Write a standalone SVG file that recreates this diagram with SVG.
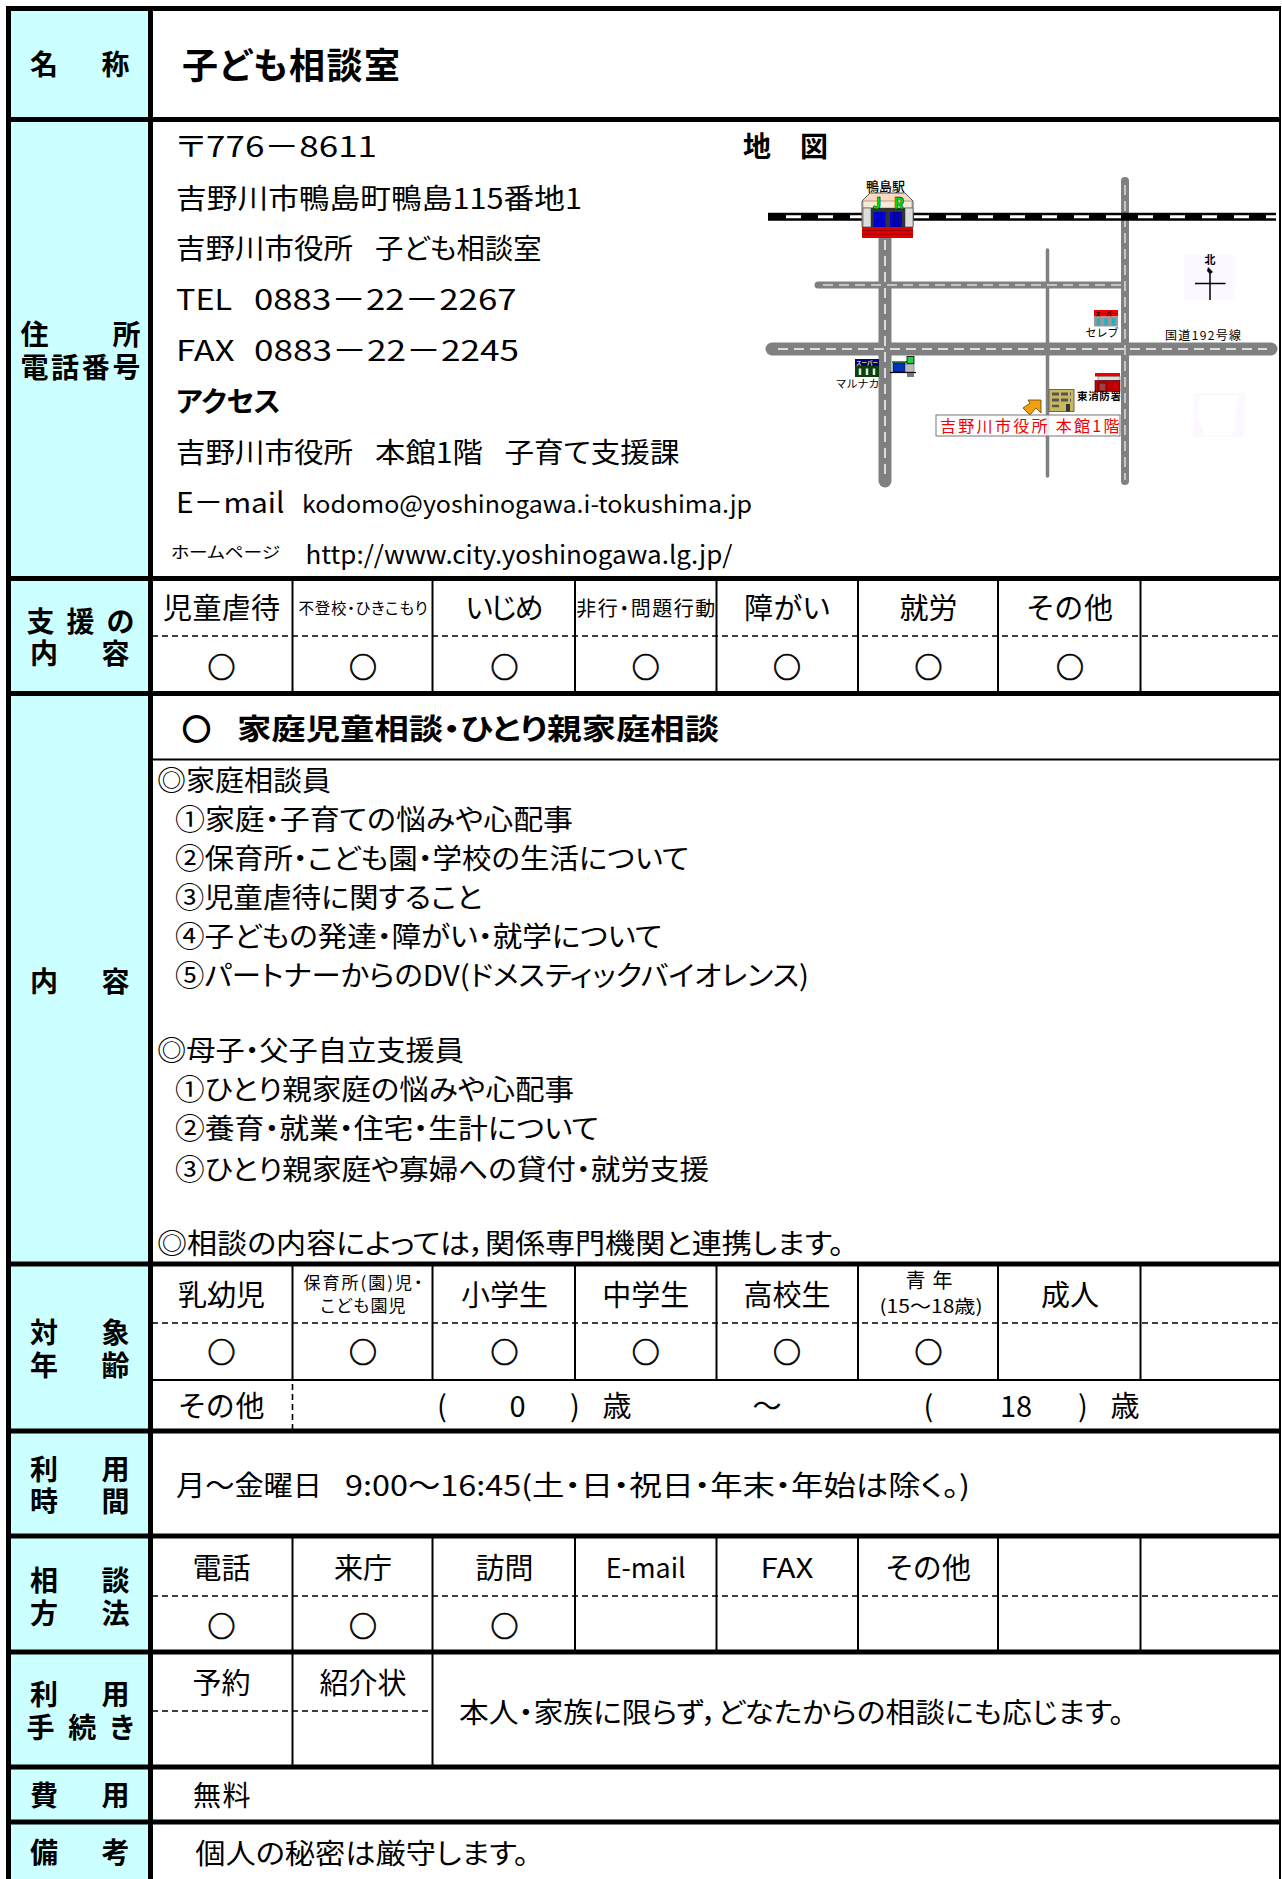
<svg xmlns="http://www.w3.org/2000/svg" width="1282" height="1879" viewBox="0 0 1282 1879">
<defs><style>
text{font-family:"Noto Sans CJK JP","Liberation Sans",sans-serif;fill:#000;font-feature-settings:"palt"}
.t{font-size:28px}
.s{font-size:29px;text-anchor:middle}
.c{font-size:28px;text-anchor:middle;font-weight:700;font-feature-settings:normal;stroke:#000;stroke-width:.6}
.b{font-size:28px;font-weight:700}
.k{stroke:#000;stroke-width:5;fill:none}
.m{stroke:#000;stroke-width:2;fill:none}
.d{stroke:#000;stroke-width:1.6;stroke-dasharray:6 4;fill:none}
.r{stroke:#808080;fill:none;stroke-linecap:round}
.l{stroke:#dcdcdc;fill:none;stroke-dasharray:10 6}
.mt{font-size:11px;text-anchor:middle;font-feature-settings:normal}
.i{font-size:5.500px;text-anchor:middle;font-weight:700;font-feature-settings:normal}
</style></defs>
<rect width="1282" height="1879" fill="#fff"/>
<rect x="8" y="8" width="142" height="1871" fill="#ccffff"/>

<g id="grid">
<path class="k" d="M8.500 1879V8.500H1281M150.500 8V1879"/>
<g transform="translate(0,1)">
<path class="k" d="M8 118.500H1281M8 577.500H1281M8 692.500H1281M8 1263H1281M8 1430H1281M8 1535H1281M8 1651H1281M8 1766H1281M8 1821H1281"/>
<path class="m" d="M150 758.500H1280"/>
<path class="m" d="M292.500 578V692M432.500 578V692M575 578V692M716.500 578V692M858 578V692M998 578V692M1140.500 578V692"/>
<path class="m" d="M292.500 1263V1379M432.500 1263V1379M575 1263V1379M716.500 1263V1379M858 1263V1379M998 1263V1379M1140.500 1263V1379M150 1379H1280"/>
<path class="m" d="M292.500 1535V1651M432.500 1535V1651M575 1535V1651M716.500 1535V1651M858 1535V1651M998 1535V1651M1140.500 1535V1651"/>
<path class="m" d="M292.500 1651V1766M432.500 1651V1766"/>
<path class="d" d="M152 635H1280M152 1322H1280M152 1595H1280M152 1710H433M292.500 1383V1428"/>
</g>
<path class="m" d="M1280 8V1879"/>
</g>

<g id="row-name">
<text class="b" x="30" y="74.500" textLength="99.500">名 称</text>
<text x="182" y="78.500" font-size="36" font-weight="700" textLength="218">子ども相談室</text>
</g>

<g id="row-address" transform="translate(0,1)">
<text class="b" x="20.400" y="344" textLength="120">住 所</text>
<text class="b" x="20.400" y="376.500" textLength="120">電話番号</text>
<text class="t" x="176" y="156" textLength="201" lengthAdjust="spacingAndGlyphs">〒776－8611</text>
<text class="t" x="176" y="207.500" textLength="406" lengthAdjust="spacingAndGlyphs">吉野川市鴨島町鴨島115番地1</text>
<text class="t" x="176" y="258" textLength="177" lengthAdjust="spacingAndGlyphs">吉野川市役所</text>
<text class="t" x="375" y="258" textLength="166.500" lengthAdjust="spacingAndGlyphs">子ども相談室</text>
<text class="t" x="176" y="309" textLength="56" lengthAdjust="spacingAndGlyphs">TEL</text>
<text class="t" x="254" y="309" textLength="262.500" lengthAdjust="spacingAndGlyphs">0883－22－2267</text>
<text class="t" x="176" y="359.500" textLength="58.700" lengthAdjust="spacingAndGlyphs">FAX</text>
<text class="t" x="254" y="359.500" textLength="265" lengthAdjust="spacingAndGlyphs">0883－22－2245</text>
<text class="t" x="176" y="411" font-weight="700" textLength="104.500" lengthAdjust="spacingAndGlyphs">アクセス</text>
<text class="t" x="176" y="461.500" textLength="177" lengthAdjust="spacingAndGlyphs">吉野川市役所</text>
<text class="t" x="375" y="461.500" textLength="108" lengthAdjust="spacingAndGlyphs">本館1階</text>
<text class="t" x="504.500" y="461.500" textLength="175" lengthAdjust="spacingAndGlyphs">子育て支援課</text>
<text class="t" x="176" y="512" textLength="108.500" lengthAdjust="spacingAndGlyphs">E－mail</text>
<text x="302" y="512" font-size="24" textLength="450" lengthAdjust="spacingAndGlyphs">kodomo@yoshinogawa.i-tokushima.jp</text>
<text x="171" y="557" font-size="16" textLength="109" lengthAdjust="spacingAndGlyphs">ホームページ</text>
<text x="305.500" y="562.500" font-size="25" textLength="427" lengthAdjust="spacingAndGlyphs">http://www.city.yoshinogawa.lg.jp/</text>
</g>

<g id="map">
<text class="b" x="743" y="157" textLength="85">地 図</text>
<rect x="1184" y="255" width="51" height="45" fill="#fdf8ff"/>
<rect x="1193.500" y="393" width="51" height="44" fill="#fdf8ff"/>
<path d="M1200 395h38l-5 40h-28l-8-20z" fill="#fff"/>
<g id="roads">
<path class="r" stroke-width="13" d="M885 235V481"/>
<path class="r" stroke-width="8" d="M1125 181V481"/>
<path class="r" stroke-width="3.500" d="M1047.500 250V476"/>
<path class="r" stroke-width="7" d="M818 285H1125"/>
<path class="r" stroke-width="13" d="M772 349H1271"/>
<path class="l" stroke-width="2" d="M885 240V478"/>
<path class="l" stroke-width="1.500" d="M1125 185V480M823 285H1121"/>
<path class="l" stroke-width="2" d="M778 349H1267"/>
<path stroke="#000" stroke-width="8" d="M768 216.700H1276"/>
<path stroke="#fff" stroke-width="3" stroke-dasharray="15 17" d="M786 216.700H1276"/>
</g>
<g id="station">
<text x="885.500" y="191" font-size="13" text-anchor="middle" font-weight="500" style="font-feature-settings:normal">鴨島駅</text>
<path d="M862 227V201L870 193H905L913 201V227Z" fill="#fcd8c0" stroke="#555"/>
<rect x="863" y="201" width="49" height="7" fill="#f8e8d8" stroke="#777" stroke-width=".6"/>
<rect x="863" y="208" width="8" height="19" fill="#ddd" stroke="#666" stroke-width=".8"/>
<rect x="905" y="208" width="8" height="19" fill="#ddd" stroke="#666" stroke-width=".8"/>
<rect x="871" y="208" width="34" height="19" fill="#333"/>
<rect x="873.500" y="212" width="12" height="15" fill="#0000d0"/>
<rect x="890" y="212" width="12" height="15" fill="#0000d0"/>
<path stroke="#000" stroke-width=".8" d="M877.500 212v15M881.500 212v15M894 212v15M898 212v15"/>
<rect x="862" y="227" width="51" height="11" fill="#e00000"/>
<path stroke="#800000" stroke-width=".8" d="M862 230.500H913M862 234H913"/>
<text x="877" y="209" font-size="15" font-weight="900" text-anchor="middle" style="fill:#00dd00;stroke:#000;stroke-width:.4">J</text>
<text x="899" y="209" font-size="15" font-weight="900" text-anchor="middle" style="fill:#00dd00;stroke:#000;stroke-width:.4">R</text>
</g>
<g id="north">
<text class="mt" x="1210" y="264" font-weight="700">北</text>
<path d="M1208 267L1213 272 1210 274 1207 271Z" fill="#000"/>
<path stroke="#000" stroke-width="1.500" fill="none" d="M1195 283.500H1225.500M1210 272V300"/>
</g>
<g id="store-celeb">
<rect x="1094" y="310" width="24" height="6.500" fill="#f00000"/>
<text class="i" x="1106" y="315.500">スーパー</text>
<rect x="1094" y="316.500" width="24" height="10" fill="#999"/>
<path stroke="#20b0c0" stroke-width="3.500" d="M1098.500 318.500v7M1106 318.500v7M1113.500 318.500v7"/>
<text class="mt" x="1102" y="337">セレブ</text>
</g>
<text id="route" x="1165" y="340" font-size="12" textLength="76" style="font-feature-settings:normal">国道192号線</text>
<g id="store-maruka">
<rect x="855" y="359" width="24" height="7" fill="#000080"/>
<text class="i" x="867" y="364.500" style="fill:#e8e040">スーパー</text>
<rect x="855" y="366" width="24" height="11" fill="#0a400a"/>
<path stroke="#dfe8df" stroke-width="2.500" d="M860 368.500v6.500M867 368.500v6.500M874 368.500v6.500"/>
<text class="mt" x="857.500" y="388">マルナカ</text>
</g>
<g id="gas">
<rect x="892" y="361" width="15" height="2" fill="#20a050"/>
<rect x="893" y="363" width="12" height="9" fill="#0030c0" stroke="#000" stroke-width=".6"/>
<path stroke="#000" stroke-width="1.200" d="M890 372.500H916"/>
<rect x="907" y="356.500" width="7" height="7" fill="#20d040" stroke="#000" stroke-width=".8"/>
<rect x="905" y="364" width="9" height="8" fill="#bbb" stroke="#444" stroke-width=".5"/>
<rect x="907" y="373" width="7" height="4" fill="#777"/>
</g>
<g id="fire">
<rect x="1095" y="373" width="25" height="3.500" fill="#f00000"/>
<rect x="1098" y="376.500" width="22" height="4" fill="#ddd" stroke="#555" stroke-width=".5"/>
<rect x="1095" y="380.500" width="25" height="11" fill="#c00000" stroke="#300" stroke-width=".6"/>
<rect x="1099" y="383" width="7" height="8" fill="#a04040" stroke="#200" stroke-width=".6"/>
<text x="1077" y="400" font-size="10.500" font-weight="700" textLength="44" style="font-feature-settings:normal">東消防署</text>
</g>
<g id="city-hall">
<rect x="1049" y="389.500" width="25" height="22" fill="#c8b860" stroke="#666"/>
<path stroke="#555" stroke-width="3" stroke-dasharray="7 2" d="M1052 394h19M1052 400h19"/>
<path stroke="#555" stroke-width="2.500" d="M1052 406h7"/>
<rect x="1066" y="404" width="4" height="7.500" fill="#333"/>
<path d="M1041 400V413L1036 408 1030 415 1023 408 1030 403 1028 400Z" fill="#f0a010" stroke="#604000" stroke-width=".8"/>
</g>
<rect x="936" y="415" width="184" height="21" fill="#fff" fill-opacity=".85" stroke="#777"/>
<text x="940" y="431.500" font-size="16" textLength="179.500" style="fill:#f00000;font-feature-settings:normal">吉野川市役所 本館1階</text>
</g>

<g id="row-support" transform="translate(0,1)">
<text class="b" x="26.400" y="630.500" textLength="107.800">支 援 の</text>
<text class="b" x="30" y="662.500" textLength="99.500">内 容</text>
<text class="s" x="221.600" y="617.500" textLength="117">児童虐待</text>
<text x="363" y="613" font-size="15.500" text-anchor="middle" textLength="129">不登校・ひきこもり</text>
<text class="s" x="504.400" y="617.500" textLength="78">いじめ</text>
<text x="645.700" y="614.500" font-size="20" text-anchor="middle" textLength="139">非行・問題行動</text>
<text class="s" x="787" y="617.500" textLength="86">障がい</text>
<text class="s" x="928.500" y="617.500" textLength="58">就労</text>
<text class="s" x="1070" y="617.500" textLength="86">その他</text>
<text class="c" x="221.600" y="677">○</text><text class="c" x="363" y="677">○</text><text class="c" x="504.400" y="677">○</text><text class="c" x="645.700" y="677">○</text><text class="c" x="787" y="677">○</text><text class="c" x="928.500" y="677">○</text><text class="c" x="1070" y="677">○</text>
</g>

<g id="row-content" transform="translate(0,1.500)">
<text class="b" x="30" y="990" textLength="99.500">内 容</text>
<text class="c" x="196.500" y="738" style="stroke-width:2">○</text>
<text x="237" y="738" font-size="29" font-weight="700" textLength="482" lengthAdjust="spacingAndGlyphs">家庭児童相談・ひとり親家庭相談</text>
<text class="t" x="157" y="789.500" textLength="174" lengthAdjust="spacingAndGlyphs">◎家庭相談員</text>
<text class="t" x="175" y="828" textLength="398" lengthAdjust="spacingAndGlyphs">①家庭・子育ての悩みや心配事</text>
<text class="t" x="175" y="867.500" textLength="514" lengthAdjust="spacingAndGlyphs">②保育所・こども園・学校の生活について</text>
<text class="t" x="175" y="906" textLength="307" lengthAdjust="spacingAndGlyphs">③児童虐待に関すること</text>
<text class="t" x="175" y="945" textLength="487" lengthAdjust="spacingAndGlyphs">④子どもの発達・障がい・就学について</text>
<text class="t" x="175" y="984" textLength="634" lengthAdjust="spacingAndGlyphs">⑤パートナーからのDV(ドメスティックバイオレンス)</text>
<text class="t" x="157" y="1059.500" textLength="307" lengthAdjust="spacingAndGlyphs">◎母子・父子自立支援員</text>
<text class="t" x="175" y="1098.500" textLength="399" lengthAdjust="spacingAndGlyphs">①ひとり親家庭の悩みや心配事</text>
<text class="t" x="175" y="1137.500" textLength="424" lengthAdjust="spacingAndGlyphs">②養育・就業・住宅・生計について</text>
<text class="t" x="175" y="1178" textLength="534" lengthAdjust="spacingAndGlyphs">③ひとり親家庭や寡婦への貸付・就労支援</text>
<text class="t" x="157" y="1252" textLength="687" lengthAdjust="spacingAndGlyphs">◎相談の内容によっては，関係専門機関と連携します。</text>
</g>

<g id="row-age" transform="translate(0,1)">
<text class="b" x="30" y="1342" textLength="99.500">対 象</text>
<text class="b" x="30" y="1374.500" textLength="99.500">年 齢</text>
<text class="s" x="221.600" y="1304.500" textLength="87">乳幼児</text>
<text x="363" y="1288" font-size="17" text-anchor="middle" textLength="119">保育所(園)児・</text>
<text x="363" y="1310.600" font-size="17" text-anchor="middle" textLength="85">こども園児</text>
<text class="s" x="504.400" y="1304.500" textLength="87">小学生</text>
<text class="s" x="645.700" y="1304.500" textLength="87">中学生</text>
<text class="s" x="787" y="1304.500" textLength="87">高校生</text>
<text x="929" y="1287" font-size="20" text-anchor="middle" textLength="47">青年</text>
<text x="931" y="1312" font-size="18" text-anchor="middle" textLength="103" lengthAdjust="spacingAndGlyphs">(15～18歳)</text>
<text class="s" x="1070" y="1304.500" textLength="58">成人</text>
<text class="c" x="221.600" y="1362">○</text><text class="c" x="363" y="1362">○</text><text class="c" x="504.400" y="1362">○</text><text class="c" x="645.700" y="1362">○</text><text class="c" x="787" y="1362">○</text><text class="c" x="928.500" y="1362">○</text>
<text class="s" x="221.600" y="1416" textLength="86">その他</text>
<text class="s" y="1416"><tspan x="442">(</tspan><tspan x="517.500">0</tspan><tspan x="575">)</tspan><tspan x="617">歳</tspan><tspan x="767">～</tspan><tspan x="928.500">(</tspan><tspan x="1016">18</tspan><tspan x="1083">)</tspan><tspan x="1125">歳</tspan></text>
</g>

<g id="row-hours" transform="translate(0,1)">
<text class="b" x="30" y="1478.500" textLength="99.500">利 用</text>
<text class="b" x="30" y="1511" textLength="99.500">時 間</text>
<text class="t" x="176" y="1494.500" textLength="146" lengthAdjust="spacingAndGlyphs">月～金曜日</text>
<text class="t" x="345" y="1494.500" textLength="625" lengthAdjust="spacingAndGlyphs">9:00～16:45(土・日・祝日・年末・年始は除く。)</text>
</g>

<g id="row-method" transform="translate(0,1)">
<text class="b" x="30" y="1590" textLength="99.500">相 談</text>
<text class="b" x="30" y="1622.500" textLength="99.500">方 法</text>
<text class="s" x="221.600" y="1577.500" textLength="58">電話</text>
<text class="s" x="363" y="1577.500" textLength="58">来庁</text>
<text class="s" x="504.400" y="1577.500" textLength="58">訪問</text>
<text class="s" x="645.700" y="1577" style="font-size:27px" textLength="80" lengthAdjust="spacingAndGlyphs">E-mail</text>
<text class="s" x="787" y="1577" style="font-size:27px" textLength="53" lengthAdjust="spacingAndGlyphs">FAX</text>
<text class="s" x="928.500" y="1577.500" textLength="85">その他</text>
<text class="c" x="221.600" y="1635.500">○</text><text class="c" x="363" y="1635.500">○</text><text class="c" x="504.400" y="1635.500">○</text>
</g>

<g id="row-procedure" transform="translate(0,1)">
<text class="b" x="30" y="1704" textLength="99.500">利 用</text>
<text class="b" x="26.400" y="1736.500" textLength="107.800">手 続 き</text>
<text class="s" x="221.600" y="1692.500" textLength="58">予約</text>
<text class="s" x="363" y="1692.500" textLength="87">紹介状</text>
<text class="t" x="459" y="1721.500" textLength="665" lengthAdjust="spacingAndGlyphs">本人・家族に限らず，どなたからの相談にも応じます。</text>
</g>

<g id="row-fee" transform="translate(0,1)">
<text class="b" x="30" y="1804.500" textLength="99.500">費 用</text>
<text class="t" x="193" y="1805" textLength="57.500">無料</text>
</g>

<g id="row-note" transform="translate(0,1)">
<text class="b" x="30" y="1862" textLength="99.500">備 考</text>
<text class="t" x="195.300" y="1862.500" textLength="333.500" lengthAdjust="spacingAndGlyphs">個人の秘密は厳守します。</text>
</g>
</svg>
